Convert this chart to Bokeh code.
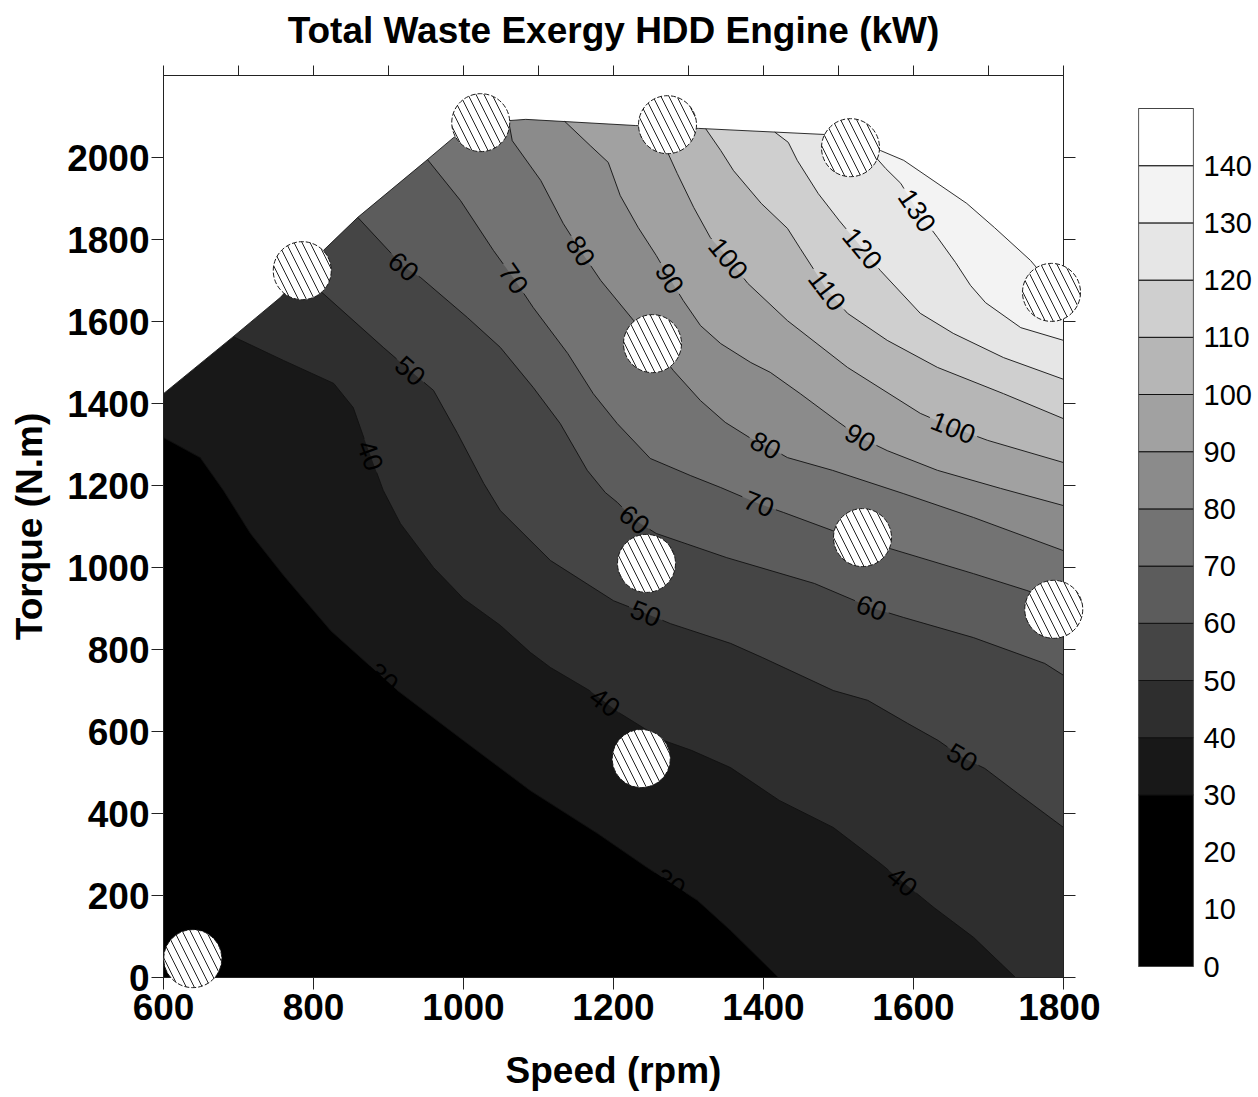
import math

from bokeh.core.properties import value
from bokeh.embed import file_html
from bokeh.layouts import row
from bokeh.models import CustomJSTickFormatter, FixedTicker, LinearAxis, Range1d
from bokeh.plotting import figure
from bokeh.resources import INLINE

FONT = "Liberation Sans"
TITLE = "Total Waste Exergy HDD Engine (kW)"

# ---- colour scale (kW) ------------------------------------------------------
band_edges = [0, 30, 40, 50, 60, 70, 80, 90, 100, 110, 120, 130, 140, 150]
band_colors = ["#000000", "#181818", "#2e2e2e", "#454545", "#5c5c5c", "#737373",
               "#8b8b8b", "#a1a1a1", "#b6b6b6", "#cfcfcf", "#e6e6e6", "#f3f3f3",
               "#ffffff"]
colorbar_ticks = list(range(0, 141, 10))

speed_ticks = list(range(600, 1801, 200))
speed_minor = list(range(600, 1801, 100))
torque_ticks = list(range(0, 2001, 200))

# ---- full-load envelope of the map ------------------------------------------
envelope_speed = [600, 693, 756, 813, 859, 952, 987, 1023, 1083, 1229, 1313, 1483,
                  1517, 1556, 1587, 1671, 1708, 1756, 1784, 1800]
envelope_torque = [1424, 1563, 1659, 1773, 1854, 1995, 2049, 2085, 2093, 2078, 2071,
                   2056, 2041, 2017, 1993, 1888, 1829, 1749, 1688, 1651]

# ---- measured operating points ----------------------------------------------
point_speed = [639, 785, 1023, 1272, 1516, 1784, 1252, 1532, 1244, 1787, 1237]
point_torque = [46, 1724, 2085, 2080, 2024, 1671, 1546, 1073, 1010, 898, 534]

# ---- iso-lines of total waste exergy (kW) -----------------------------------
iso30_speed = [600, 649, 680, 716, 760, 823, 912, 1000, 1089, 1179, 1245, 1312, 1356, 1420]
iso30_torque = [1317, 1268, 1188, 1083, 981, 846, 700, 578, 456, 351, 268, 188, 115, 0]

iso40_speed = [693, 760, 827, 853, 867, 876, 893, 916, 960, 1000, 1049, 1089, 1116, 1168,
               1209, 1267, 1304, 1356, 1421, 1493, 1556, 1627, 1680, 1736]
iso40_torque = [1563, 1505, 1449, 1390, 1317, 1273, 1188, 1107, 1000, 924, 859, 793, 756,
                700, 644, 578, 554, 512, 432, 366, 278, 171, 98, 0]

iso50_speed = [783, 813, 893, 929, 960, 992, 1027, 1049, 1116, 1200, 1243, 1276, 1356, 1399,
               1493, 1539, 1592, 1633, 1665, 1695, 1739, 1800]
iso50_torque = [1710, 1668, 1537, 1480, 1432, 1327, 1205, 1139, 1017, 919, 888, 863, 815,
                780, 700, 676, 620, 578, 537, 510, 449, 366]

iso60_speed = [859, 920, 943, 1005, 1049, 1093, 1129, 1165, 1189, 1205, 1229, 1257, 1351,
               1468, 1544, 1587, 1680, 1775, 1800]
iso60_torque = [1854, 1734, 1707, 1610, 1537, 1439, 1351, 1237, 1183, 1159, 1115, 1083,
                1024, 961, 902, 878, 829, 766, 737]

iso70_speed = [952, 996, 1040, 1067, 1093, 1139, 1173, 1205, 1249, 1303, 1343, 1393, 1427,
               1492, 1532, 1569, 1680, 1751, 1800]
iso70_torque = [1995, 1895, 1773, 1705, 1634, 1522, 1424, 1351, 1266, 1224, 1195, 1156,
                1134, 1090, 1066, 1046, 985, 944, 912]

iso80_speed = [1060, 1065, 1103, 1133, 1156, 1183, 1227, 1252, 1280, 1316, 1349, 1383, 1403,
               1432, 1492, 1587, 1680, 1800]
iso80_torque = [2090, 2041, 1944, 1839, 1773, 1700, 1602, 1546, 1480, 1407, 1354, 1315,
                1298, 1268, 1237, 1180, 1122, 1041]

iso90_speed = [1135, 1169, 1193, 1209, 1233, 1257, 1275, 1293, 1316, 1343, 1383, 1409, 1449,
               1499, 1529, 1565, 1632, 1716, 1800]
iso90_torque = [2088, 2029, 1988, 1907, 1829, 1761, 1705, 1651, 1590, 1546, 1500, 1476,
                1424, 1356, 1317, 1285, 1237, 1193, 1151]

iso100_speed = [1259, 1271, 1285, 1307, 1329, 1353, 1379, 1432, 1512, 1609, 1653, 1699, 1800]
iso100_torque = [2076, 2017, 1961, 1878, 1805, 1754, 1693, 1602, 1488, 1376, 1341, 1310, 1256]

iso110_speed = [1323, 1343, 1360, 1397, 1432, 1449, 1485, 1512, 1565, 1632, 1720, 1800]
iso110_torque = [2070, 2017, 1968, 1888, 1827, 1778, 1676, 1620, 1554, 1488, 1424, 1363]

iso120_speed = [1415, 1433, 1445, 1473, 1501, 1532, 1556, 1609, 1653, 1720, 1800]
iso120_torque = [2062, 2037, 1993, 1912, 1846, 1778, 1724, 1620, 1571, 1512, 1459]

iso130_speed = [1536, 1563, 1583, 1605, 1632, 1656, 1676, 1696, 1743, 1800]
iso130_torque = [2029, 1973, 1937, 1871, 1805, 1744, 1688, 1646, 1585, 1554]

# ---- in-line labels: level and where along its line it sits ----------------
label_level = [60, 70, 80, 90, 100, 110, 120, 130, 50, 40, 30, 80, 90, 100, 70, 60, 60,
               50, 40, 50, 40, 30]
label_speed = [920, 1067, 1153, 1275, 1353, 1485, 1532, 1605, 929, 876, 892, 1403, 1529,
               1653, 1393, 1227, 1544, 1243, 1187, 1665, 1583, 1276]
label_torque = [1734, 1705, 1768, 1705, 1754, 1676, 1778, 1871, 1480, 1273, 729, 1298,
                1317, 1341, 1151, 1115, 902, 888, 668, 537, 229, 232]

iso_lines = {
    30: (iso30_speed, iso30_torque), 40: (iso40_speed, iso40_torque),
    50: (iso50_speed, iso50_torque), 60: (iso60_speed, iso60_torque),
    70: (iso70_speed, iso70_torque), 80: (iso80_speed, iso80_torque),
    90: (iso90_speed, iso90_torque), 100: (iso100_speed, iso100_torque),
    110: (iso110_speed, iso110_torque), 120: (iso120_speed, iso120_torque),
    130: (iso130_speed, iso130_torque),
}
levels = sorted(iso_lines)

# ---- geometry of the main panel ---------------------------------------------
X0, X1, Y0, Y1 = 600, 1800, 0, 2200
W, H = 1100, 1097
B_LEFT, B_RIGHT, B_TOP, B_BOTTOM = 163, 37, 75, 120
FRAME_H = H - B_TOP - B_BOTTOM
SX = (W - B_LEFT - B_RIGHT) / (X1 - X0)
SY = FRAME_H / (Y1 - Y0)
LABEL_PX = 27


def to_px(xs, ys):
    return [(x - X0) * SX for x in xs], [(y - Y0) * SY for y in ys]


def arclength(px, py):
    s = [0.0]
    for i in range(1, len(px)):
        s.append(s[-1] + math.hypot(px[i] - px[i - 1], py[i] - py[i - 1]))
    return s


def point_at(px, py, s, d):
    d = min(max(d, 0.0), s[-1])
    for i in range(1, len(s)):
        if d <= s[i] or i == len(s) - 1:
            seg = s[i] - s[i - 1]
            t = (d - s[i - 1]) / seg if seg > 0 else 0.0
            return px[i - 1] + t * (px[i] - px[i - 1]), py[i - 1] + t * (py[i] - py[i - 1])


def project(px, py, s, qx, qy):
    best = None
    for i in range(1, len(px)):
        dx, dy = px[i] - px[i - 1], py[i] - py[i - 1]
        l2 = dx * dx + dy * dy
        t = 0.0 if l2 == 0 else ((qx - px[i - 1]) * dx + (qy - py[i - 1]) * dy) / l2
        t = min(max(t, 0.0), 1.0)
        cx, cy = px[i - 1] + t * dx, py[i - 1] + t * dy
        d2 = (qx - cx) ** 2 + (qy - cy) ** 2
        if best is None or d2 < best[0]:
            best = (d2, s[i - 1] + t * math.sqrt(l2))
    return best[1]


# labels snapped onto their lines, with a gap cut in the line under each one
line_xs, line_ys = [], []
lab_x, lab_y, lab_text, lab_angle = [], [], [], []
for lv in levels:
    xs, ys = iso_lines[lv]
    px, py = to_px(xs, ys)
    s = arclength(px, py)
    gaps = []
    for k, l in enumerate(label_level):
        if l != lv:
            continue
        qx, qy = to_px([label_speed[k]], [label_torque[k]])
        s0 = project(px, py, s, qx[0], qy[0])
        text = str(lv)
        hw = len(text) * 0.556 * LABEL_PX / 2 + 3
        ax, ay = point_at(px, py, s, s0 - hw)
        bx, by = point_at(px, py, s, s0 + hw)
        ang = math.atan2(by - ay, bx - ax)
        if ang > math.pi / 2:
            ang -= math.pi
        elif ang < -math.pi / 2:
            ang += math.pi
        cx, cy = point_at(px, py, s, s0)
        lab_x.append(X0 + cx / SX)
        lab_y.append(Y0 + cy / SY)
        lab_text.append(text)
        lab_angle.append(ang)
        gaps.append((s0 - hw, s0 + hw))
    gaps.sort()
    keep, start = [], 0.0
    for a, b in gaps:
        if a > start:
            keep.append((start, a))
        start = max(start, b)
    if start < s[-1]:
        keep.append((start, s[-1]))
    for a, b in keep:
        pts = [point_at(px, py, s, a)]
        pts += [(px[i], py[i]) for i in range(len(px)) if a < s[i] < b]
        pts.append(point_at(px, py, s, b))
        line_xs.append([X0 + q[0] / SX for q in pts])
        line_ys.append([Y0 + q[1] / SY for q in pts])

# filled bands: each level paints the region on its high side
fill_xs, fill_ys, fill_colors = [], [], []
for i, lv in enumerate(levels):
    xs, ys = list(iso_lines[lv][0]), list(iso_lines[lv][1])
    first_x = xs[0]
    if ys[-1] <= Y0:
        xs.append(X1)
        ys.append(Y0)
    xs += [X1, first_x]
    ys += [Y1, Y1]
    fill_xs.append(xs)
    fill_ys.append(ys)
    fill_colors.append(band_colors[i + 1])

p = figure(width=W, height=H, x_range=Range1d(X0, X1), y_range=Range1d(Y0, Y1),
           output_backend="svg", toolbar_location=None, title=None,
           min_border_left=B_LEFT, min_border_right=B_RIGHT,
           min_border_top=B_TOP, min_border_bottom=B_BOTTOM,
           background_fill_color=band_colors[0], border_fill_color="white",
           outline_line_color="#222222")
p.grid.visible = False

p.patches(fill_xs, fill_ys, fill_color=fill_colors, line_color=None)

# area outside the operating envelope
p.patch(envelope_speed + [X1, X0], envelope_torque + [Y1, Y1],
        fill_color="white", line_color=None)
p.line(envelope_speed, envelope_torque, line_color="#1a1a1a", line_width=0.9)

p.multi_line(line_xs, line_ys, line_color="#111111", line_width=0.9)
p.text(x=lab_x, y=lab_y, text=lab_text, angle=lab_angle, angle_units="rad",
       text_align="center", text_baseline="middle", text_color="black",
       text_font=value(FONT), text_font_size=f"{LABEL_PX}px")

p.scatter(point_speed, point_torque, marker="circle", size=58,
          fill_color="white", line_color="#1a1a1a", line_width=1, line_dash="5 2",
          hatch_pattern="left_diagonal_line", hatch_color="#222222",
          hatch_scale=16, hatch_weight=1, level="overlay")

# axes
p.xaxis.ticker = FixedTicker(ticks=speed_ticks)
p.yaxis.ticker = FixedTicker(ticks=torque_ticks)
p.xaxis.axis_label = "Speed (rpm)"
p.yaxis.axis_label = "Torque (N.m)"
for ax in (p.xaxis[0], p.yaxis[0]):
    ax.major_label_text_font = FONT
    ax.major_label_text_font_style = "bold"
    ax.major_label_text_font_size = "37px"
    ax.major_label_text_color = "black"
    ax.axis_label_text_font = FONT
    ax.axis_label_text_font_style = "bold"
    ax.axis_label_text_font_size = "37px"
    ax.axis_label_text_color = "black"
    ax.axis_line_color = "#222222"
    ax.major_tick_line_color = "#222222"
    ax.major_tick_in = 0
    ax.major_tick_out = 12
    ax.minor_tick_line_color = None
p.xaxis.major_label_standoff = 4
p.xaxis.axis_label_standoff = 27
p.yaxis.major_label_standoff = 2
p.yaxis.axis_label_standoff = 14

blank = CustomJSTickFormatter(code="return ''")
# top axis: minor-style ticks only, and it carries the chart title
top_axis = LinearAxis(ticker=FixedTicker(ticks=speed_minor), formatter=blank,
                      major_tick_in=0, major_tick_out=10, minor_tick_line_color=None,
                      axis_line_color="#222222", major_tick_line_color="#222222",
                      major_label_standoff=0, major_label_text_font_size="1px",
                      axis_label=TITLE, axis_label_standoff=15,
                      axis_label_text_font=FONT, axis_label_text_font_style="bold",
                      axis_label_text_font_size="37px", axis_label_text_color="black")
right_axis = LinearAxis(ticker=FixedTicker(ticks=torque_ticks), formatter=blank,
                        major_tick_in=0, major_tick_out=12, minor_tick_line_color=None,
                        axis_line_color="#222222", major_tick_line_color="#222222",
                        major_label_standoff=0, major_label_text_font_size="1px")
p.add_layout(top_axis, "above")
p.add_layout(right_axis, "right")

# ---- colour bar (its frame shares the main frame's height) -----------------
CB_TOP_PX, CB_BOTTOM_PX = 108, 966
per_px = band_edges[-1] / (CB_BOTTOM_PX - CB_TOP_PX)
cb_lo = band_edges[0] - (H - B_BOTTOM - CB_BOTTOM_PX) * per_px
cb_hi = band_edges[-1] + (CB_TOP_PX - B_TOP) * per_px

cb = figure(width=158, height=H, x_range=Range1d(0, 1), y_range=Range1d(cb_lo, cb_hi),
            output_backend="svg", toolbar_location=None,
            min_border_left=38, min_border_right=65, min_border_top=B_TOP,
            min_border_bottom=B_BOTTOM, x_axis_location=None, y_axis_location="right",
            outline_line_color=None)
cb.grid.visible = False
cb.quad(left=0, right=1, bottom=band_edges[:-1], top=band_edges[1:],
        fill_color=band_colors, line_color="#111111", line_width=1)
cb.quad(left=0, right=1, bottom=band_edges[0], top=band_edges[-1],
        fill_color=None, line_color="#444444", line_width=1.2)
cb.yaxis.ticker = FixedTicker(ticks=colorbar_ticks)
cb.yaxis.major_tick_line_color = None
cb.yaxis.minor_tick_line_color = None
cb.yaxis.axis_line_color = None
cb.yaxis.major_label_standoff = 4
cb.yaxis.major_label_text_font = FONT
cb.yaxis.major_label_text_font_size = "29px"
cb.yaxis.major_label_text_color = "black"

layout = row(p, cb)
open("out.html", "w").write(file_html(layout, INLINE))
